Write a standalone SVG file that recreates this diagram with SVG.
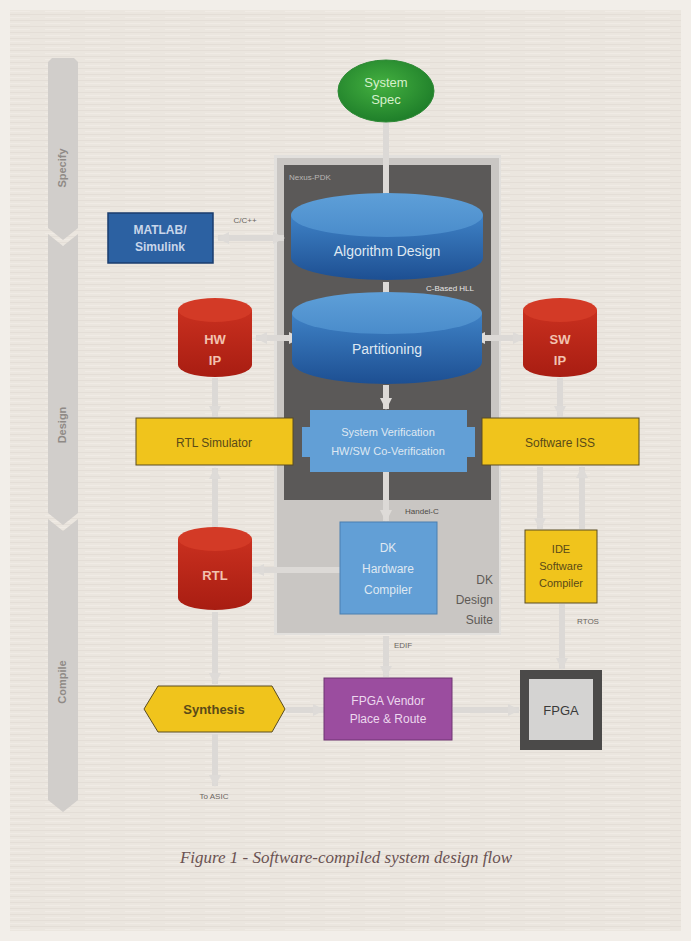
<svg xmlns="http://www.w3.org/2000/svg" width="691" height="941" viewBox="0 0 691 941">
<defs>
<pattern id="tex" width="40" height="6" patternUnits="userSpaceOnUse">
<rect width="40" height="6" fill="#ebe6df"/>
<rect y="2" width="40" height="1" fill="#e4ded7"/>
<rect y="5" x="5" width="25" height="1" fill="#f0ebe5"/>
</pattern>
<linearGradient id="blueCyl" x1="0" y1="0" x2="0" y2="1">
<stop offset="0" stop-color="#3f82c6"/>
<stop offset="1" stop-color="#1d4f92"/>
</linearGradient>
<linearGradient id="blueTop" x1="0" y1="0" x2="0" y2="1">
<stop offset="0" stop-color="#5e9fd8"/>
<stop offset="1" stop-color="#4a8ccb"/>
</linearGradient>
<linearGradient id="redCyl" x1="0" y1="0" x2="0" y2="1">
<stop offset="0" stop-color="#c9301f"/>
<stop offset="1" stop-color="#a81d12"/>
</linearGradient>
<radialGradient id="green" cx="0.45" cy="0.4" r="0.6">
<stop offset="0" stop-color="#44b040"/>
<stop offset="1" stop-color="#1f7f2a"/>
</radialGradient>
<marker id="ah" markerUnits="userSpaceOnUse" markerWidth="14" markerHeight="14" refX="11" refY="7" orient="auto-start-reverse">
<path d="M0,1 L12,7 L0,13 z" fill="#dedbd8"/>
</marker>
<style>
.bar{fill:#d1cecb}
.stage{font-family:"Liberation Sans",Arial,sans-serif;font-size:11px;font-weight:bold;fill:#8f8a86}
.con{stroke:#dcd9d6;stroke-width:6;fill:none}
.conEnd{stroke:#dcd9d6;stroke-width:6;fill:none;marker-end:url(#ah)}
.conBoth{stroke:#dcd9d6;stroke-width:6;fill:none;marker-end:url(#ah);marker-start:url(#ah)}
.lbl{font-family:"Liberation Sans",Arial,sans-serif;font-size:8px;fill:#e8e6e4}
.lblD{font-family:"Liberation Sans",Arial,sans-serif;font-size:8px;fill:#6a6560}
.wt{font-family:"Liberation Sans",Arial,sans-serif;font-size:12px;fill:#dfe8f2;text-anchor:middle}
.yt{font-family:"Liberation Sans",Arial,sans-serif;font-size:12px;fill:#5a4a18;text-anchor:middle}
.rt{font-family:"Liberation Sans",Arial,sans-serif;font-size:13px;font-weight:bold;fill:#f2c2b0;text-anchor:middle}
.yel{fill:#f0c41c;stroke:#5a4c22;stroke-width:1}
.blu{fill:#629fd6}
</style>
</defs>

<rect width="691" height="941" fill="#f2eee9"/>
<rect x="10" y="10" width="671" height="921" fill="url(#tex)"/>

<!-- Stage bar -->
<g id="stages">
<polygon class="bar" points="48,62 52,58 74,58 78,62 78,228 63,240 48,228"/>
<polygon class="bar" points="48,234 63,246 78,234 78,513 63,525 48,513"/>
<polygon class="bar" points="48,519 63,531 78,519 78,800 63,812 48,800"/>
<text class="stage" transform="translate(66,168) rotate(-90)" text-anchor="middle">Specify</text>
<text class="stage" transform="translate(66,425) rotate(-90)" text-anchor="middle">Design</text>
<text class="stage" transform="translate(66,682) rotate(-90)" text-anchor="middle">Compile</text>
</g>

<!-- DK Design Suite panel -->
<g id="dk-suite">
<rect x="274" y="155" width="227" height="480" fill="#e2e0dd"/>
<rect x="277" y="158" width="222" height="475" fill="#c9c6c3"/>
<text class="lblD" x="493" y="584" text-anchor="end" style="font-size:12px;fill:#5e5a56">DK</text>
<text class="lblD" x="493" y="604" text-anchor="end" style="font-size:12px;fill:#5e5a56">Design</text>
<text class="lblD" x="493" y="624" text-anchor="end" style="font-size:12px;fill:#5e5a56">Suite</text>
</g>
<g id="nexus-pdk">
<rect x="284" y="165" width="207" height="335" fill="#5b5958"/>
<text class="lbl" x="289" y="180" style="fill:#b9b6b3">Nexus-PDK</text>
</g>

<!-- Connectors -->
<g id="connectors">
<line class="conEnd" x1="386" y1="122" x2="386" y2="210"/>
<line class="conBoth" x1="218" y1="238" x2="284" y2="238"/>
<line class="conEnd" x1="386" y1="282" x2="386" y2="310"/>
<line class="conBoth" x1="256" y1="338" x2="300" y2="338"/>
<line class="conBoth" x1="474" y1="338" x2="524" y2="338"/>
<line class="conEnd" x1="215" y1="378" x2="215" y2="417"/>
<line class="conEnd" x1="560" y1="378" x2="560" y2="417"/>
<line class="conEnd" x1="386" y1="385" x2="386" y2="409"/>
<line class="conEnd" x1="215" y1="528" x2="215" y2="468"/>
<line class="conEnd" x1="386" y1="472" x2="386" y2="521"/>
<line class="conEnd" x1="340" y1="570" x2="253" y2="570"/>
<line class="conEnd" x1="215" y1="612" x2="215" y2="684"/>
<line class="conEnd" x1="215" y1="734" x2="215" y2="786"/>
<line class="conEnd" x1="286" y1="710" x2="324" y2="710"/>
<line class="conEnd" x1="386" y1="636" x2="386" y2="677"/>
<line class="conEnd" x1="453" y1="710" x2="519" y2="710"/>
<line class="conEnd" x1="540" y1="467" x2="540" y2="529"/>
<line class="conEnd" x1="582" y1="529" x2="582" y2="467"/>
<line class="conEnd" x1="562" y1="604" x2="562" y2="669"/>
<text class="lblD" x="245" y="223" text-anchor="middle">C/C++</text>
<text class="lbl" x="450" y="291" text-anchor="middle">C-Based HLL</text>
<text class="lblD" x="405" y="514" style="fill:#4e4a46">Handel-C</text>
<text class="lblD" x="394" y="648">EDIF</text>
<text class="lblD" x="577" y="624">RTOS</text>
<text class="lblD" x="214" y="799" text-anchor="middle">To ASIC</text>
</g>

<!-- Nodes -->
<g id="system-spec">
<ellipse cx="386" cy="91" rx="48" ry="31" fill="url(#green)" stroke="#2f8a36" stroke-width="1"/>
<text class="wt" x="386" y="87" style="fill:#d6f0cc;font-size:13px">System</text>
<text class="wt" x="386" y="104" style="fill:#d6f0cc;font-size:13px">Spec</text>
</g>

<g id="matlab">
<rect x="108" y="213" width="105" height="50" fill="#2c61a2" stroke="#1a3d6e" stroke-width="1.5"/>
<text class="wt" x="160" y="234" style="fill:#c9d6ea;font-weight:bold">MATLAB/</text>
<text class="wt" x="160" y="251" style="fill:#c9d6ea;font-weight:bold">Simulink</text>
</g>

<g id="algorithm-design">
<path d="M291,215 L291,258 A96,22 0 0 0 483,258 L483,215 Z" fill="url(#blueCyl)"/>
<ellipse cx="387" cy="215" rx="96" ry="22" fill="url(#blueTop)"/>
<text class="wt" x="387" y="256" style="font-size:14px">Algorithm Design</text>
</g>

<g id="partitioning">
<path d="M292,313 L292,362 A95,22 0 0 0 482,362 L482,313 Z" fill="url(#blueCyl)"/>
<ellipse cx="387" cy="313" rx="95" ry="21" fill="url(#blueTop)"/>
<text class="wt" x="387" y="354" style="font-size:14px">Partitioning</text>
</g>

<g id="hw-ip">
<path d="M178,310 L178,365 A37,12 0 0 0 252,365 L252,310 Z" fill="url(#redCyl)"/>
<ellipse cx="215" cy="310" rx="37" ry="12" fill="#d33a26"/>
<text class="rt" x="215" y="344">HW</text>
<text class="rt" x="215" y="365">IP</text>
</g>

<g id="sw-ip">
<path d="M523,310 L523,365 A37,12 0 0 0 597,365 L597,310 Z" fill="url(#redCyl)"/>
<ellipse cx="560" cy="310" rx="37" ry="12" fill="#d33a26"/>
<text class="rt" x="560" y="344">SW</text>
<text class="rt" x="560" y="365">IP</text>
</g>

<g id="rtl-simulator">
<rect class="yel" x="136" y="418" width="157" height="47"/>
<text class="yt" x="214" y="447">RTL Simulator</text>
</g>

<g id="system-verification">
<rect class="blu" x="302" y="427" width="173" height="30"/>
<rect class="blu" x="310" y="410" width="157" height="62"/>
<text class="wt" x="388" y="436" style="font-size:11px">System Verification</text>
<text class="wt" x="388" y="455" style="font-size:11px">HW/SW Co-Verification</text>
</g>

<g id="software-iss">
<rect class="yel" x="482" y="418" width="157" height="47"/>
<text class="yt" x="560" y="447">Software ISS</text>
</g>

<g id="rtl">
<path d="M178,539 L178,598 A37,12 0 0 0 252,598 L252,539 Z" fill="url(#redCyl)"/>
<ellipse cx="215" cy="539" rx="37" ry="12" fill="#d33a26"/>
<text class="rt" x="215" y="580">RTL</text>
</g>

<g id="dk-hardware-compiler">
<rect class="blu" x="340" y="522" width="97" height="92" stroke="#4a7fb0" stroke-width="1"/>
<text class="wt" x="388" y="552">DK</text>
<text class="wt" x="388" y="573">Hardware</text>
<text class="wt" x="388" y="594">Compiler</text>
</g>

<g id="ide-software-compiler">
<rect class="yel" x="525" y="530" width="72" height="73"/>
<text class="yt" x="561" y="553" style="font-size:11px">IDE</text>
<text class="yt" x="561" y="570" style="font-size:11px">Software</text>
<text class="yt" x="561" y="587" style="font-size:11px">Compiler</text>
</g>

<g id="synthesis">
<polygon points="158,686 272,686 285,709 272,732 158,732 144,709" fill="#f0c41c" stroke="#5a4c22" stroke-width="1"/>
<text class="yt" x="214" y="714" style="font-size:13px;font-weight:bold">Synthesis</text>
</g>

<g id="fpga-vendor">
<rect x="324" y="678" width="128" height="62" fill="#9b4d9f" stroke="#6e3472" stroke-width="1"/>
<text class="wt" x="388" y="705" style="fill:#ecd8ee">FPGA Vendor</text>
<text class="wt" x="388" y="723" style="fill:#ecd8ee">Place &amp; Route</text>
</g>

<g id="fpga">
<rect x="520" y="670" width="82" height="80" fill="#4b4a49"/>
<rect x="529" y="679" width="64" height="61" fill="#d4d3d2"/>
<text x="561" y="715" text-anchor="middle" style="font-family:'Liberation Sans',Arial,sans-serif;font-size:13px;fill:#3a3a3a">FPGA</text>
</g>

<text x="346" y="863" text-anchor="middle" style="font-family:'Liberation Serif','Times New Roman',serif;font-style:italic;font-size:17px;fill:#6a5252">Figure 1 - Software-compiled system design flow</text>
</svg>
